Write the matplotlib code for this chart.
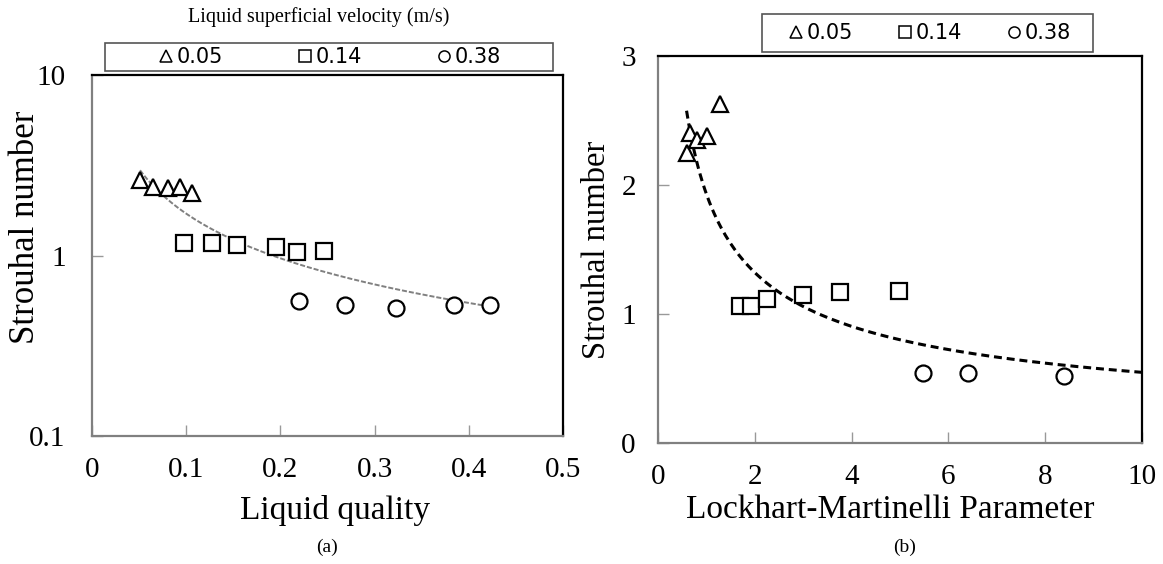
import numpy as np
import matplotlib
matplotlib.use('Agg')
import matplotlib.pyplot as plt
from matplotlib.patches import Rectangle
from matplotlib.lines import Line2D

plt.rcParams['font.family'] = 'Liberation Serif'

# (a) Strouhal number against liquid quality
quality_005 = [0.051, 0.065, 0.081, 0.093, 0.106]
st_005_a = [2.63, 2.39, 2.36, 2.40, 2.22]
quality_014 = [0.098, 0.127, 0.154, 0.195, 0.218, 0.246]
st_014_a = [1.17, 1.18, 1.14, 1.11, 1.04, 1.06]
quality_038 = [0.220, 0.269, 0.323, 0.384, 0.423]
st_038_a = [0.56, 0.53, 0.51, 0.53, 0.53]

# (b) Strouhal number against Lockhart-Martinelli parameter
lm_005 = [0.59, 0.66, 0.81, 1.02, 1.29]
st_005_b = [2.25, 2.40, 2.35, 2.38, 2.63]
lm_014 = [1.69, 1.93, 2.26, 3.00, 3.77, 4.98]
st_014_b = [1.06, 1.06, 1.12, 1.15, 1.17, 1.18]
lm_038 = [5.47, 6.40, 8.38]
st_038_b = [0.54, 0.54, 0.52]

# power-law trend lines, St = c * x**n
trend_a = (0.257, -0.822)
trend_b = (1.93, -0.547)

velocities = ['0.05', '0.14', '0.38']
markers = ['^', 's', 'o']
msizes = [12, 11, 11.5]


def scatter_groups(ax, xs, ys):
    for x, y, m, s in zip(xs, ys, markers, msizes):
        ax.plot(x, y, ls='none', marker=m, ms=s, mfc='white', mec='black',
                mew=1.6, zorder=3)


def style_axes(ax):
    for side in ['left', 'bottom']:
        ax.spines[side].set_color('#808080')
        ax.spines[side].set_linewidth(1.6)
    for side in ['top', 'right']:
        ax.spines[side].set_color('black')
        ax.spines[side].set_linewidth(1.6)
    ax.tick_params(which='major', direction='in', length=8, width=1,
                   color='#999999', labelsize=21)
    ax.tick_params(which='minor', length=0)


def legend_box(fig, x0, y0, x1, y1, cx, spacing):
    W, H = fig.get_size_inches() * fig.dpi
    fig.patches.append(Rectangle((x0 / W, 1 - y1 / H), (x1 - x0) / W, (y1 - y0) / H,
                                 transform=fig.transFigure, fill=False,
                                 ec='#555555', lw=1.2))
    handles = [Line2D([], [], ls='none', marker=m, ms=8, mfc='white', mec='black',
                      mew=1.1) for m in markers]
    fig.legend(handles, velocities, loc='center', ncol=3, frameon=False,
               bbox_to_anchor=(cx / W, 1 - (y0 + y1) / 2 / H),
               prop={'family': 'DejaVu Sans', 'size': 15},
               handlelength=0.7, handletextpad=0.15, columnspacing=spacing,
               borderaxespad=0)


fig = plt.figure(figsize=(11.63, 5.64), dpi=100)
W, H = 1163, 564

ax1 = fig.add_axes([92 / W, 1 - 436 / H, 471 / W, 361 / H])
scatter_groups(ax1, [quality_005, quality_014, quality_038],
               [st_005_a, st_014_a, st_038_a])
xq = np.linspace(min(quality_005), max(quality_038), 200)
ax1.plot(xq, trend_a[0] * xq ** trend_a[1], color='#808080', lw=1.4,
         ls=(0, (2.6, 1.0)), zorder=2)
ax1.set_yscale('log')
ax1.set_xlim(0, 0.5)
ax1.set_ylim(0.1, 10)
ax1.set_xticks([0, 0.1, 0.2, 0.3, 0.4, 0.5])
ax1.set_xticklabels(['0', '0.1', '0.2', '0.3', '0.4', '0.5'])
ax1.set_yticks([0.1, 1, 10])
ax1.set_yticklabels(['0.1', '1', '10'])
ax1.yaxis.set_minor_locator(matplotlib.ticker.NullLocator())
style_axes(ax1)
ax1.tick_params(axis='y', pad=19)
ax1.tick_params(axis='x', pad=15)
ax1.text(0.515, -0.205, 'Liquid quality', transform=ax1.transAxes,
         ha='center', va='center', fontsize=24)
ax1.text(-0.142, 0.579, 'Strouhal number', transform=ax1.transAxes,
         ha='center', va='center', rotation=90, fontsize=25)

ax2 = fig.add_axes([658 / W, 1 - 443 / H, 484 / W, 387 / H])
scatter_groups(ax2, [lm_005, lm_014, lm_038], [st_005_b, st_014_b, st_038_b])
xl = np.linspace(min(lm_005), 10, 200)
ax2.plot(xl, trend_b[0] * xl ** trend_b[1], color='black', lw=2.2,
         ls=(0, (2.6, 1.6)), zorder=2)
ax2.set_xlim(0, 10)
ax2.set_ylim(0, 3)
ax2.set_xticks([0, 2, 4, 6, 8, 10])
ax2.set_yticks([0, 1, 2, 3])
style_axes(ax2)
ax2.tick_params(axis='y', pad=16)
ax2.tick_params(axis='x', pad=15)
ax2.text(0.48, -0.173, 'Lockhart-Martinelli Parameter', transform=ax2.transAxes,
         ha='center', va='center', fontsize=24)
ax2.text(-0.126, 0.50, 'Strouhal number', transform=ax2.transAxes,
         ha='center', va='center', rotation=90, fontsize=23.5)

legend_box(fig, 105, 43, 553, 71, 330, 3.6)
legend_box(fig, 762, 14, 1093, 52, 930, 2.15)
fig.text(319 / W, 1 - 17 / H, 'Liquid superficial velocity (m/s)',
         ha='center', va='center', fontsize=14.5)
fig.text(327 / W, 1 - 547 / H, '(a)', ha='center', va='center', fontsize=14)
fig.text(905 / W, 1 - 547 / H, '(b)', ha='center', va='center', fontsize=14)

fig.savefig('out.png', dpi=100)
